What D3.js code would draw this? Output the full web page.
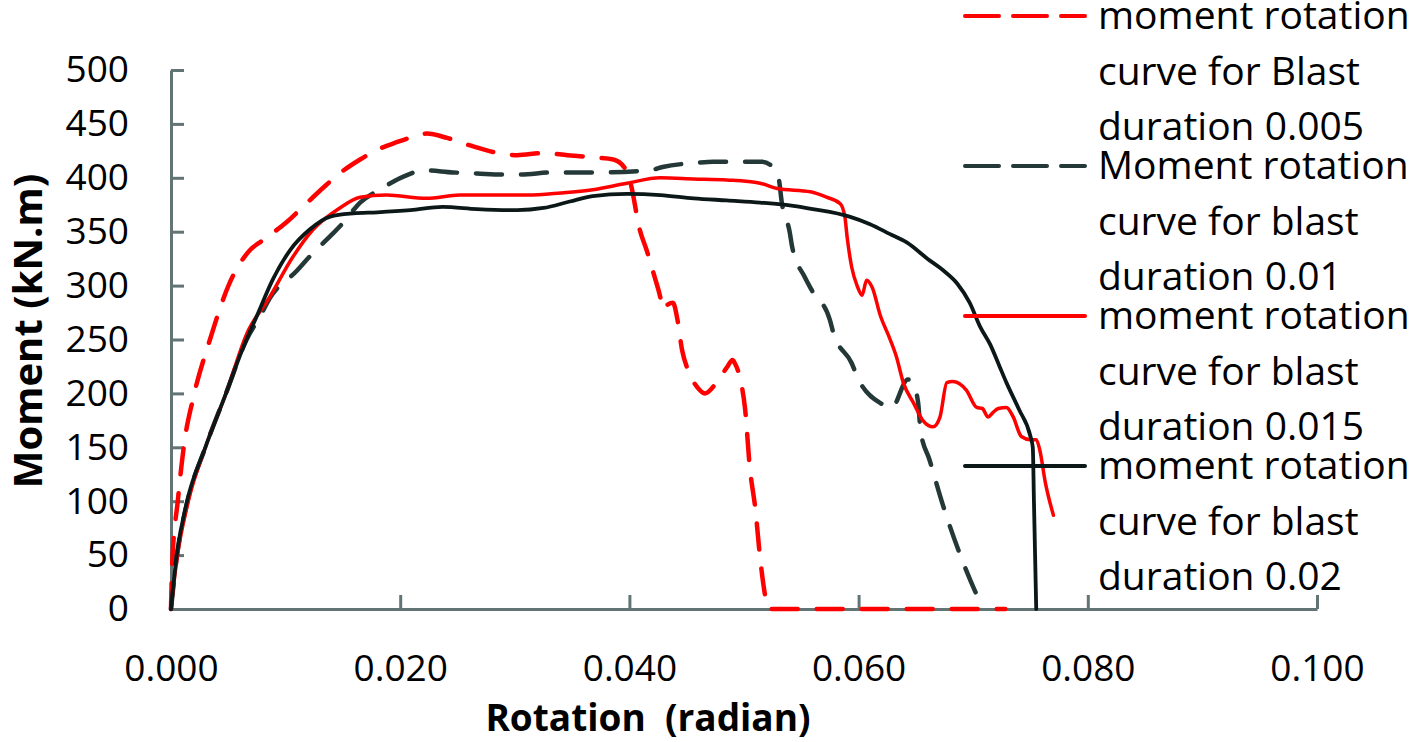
<!DOCTYPE html>
<html>
<head>
<meta charset="utf-8">
<script src="https://cdn.jsdelivr.net/npm/d3@7"></script>
<style>
  html, body { margin: 0; padding: 0; background: #fff; }
  svg { display: block; }
  .tick text { font-family: "Open Sans", sans-serif; fill: #000; }
</style>
</head>
<body>
<div id="chart"></div>
<script>
// ---------------------------------------------------------------
// data: [rotation (rad), moment (kN.m)]
// ---------------------------------------------------------------
var s005 = [[0,0],[0.0001,41],[0.0006,101],[0.0012,157],[0.0019,194],[0.0034,250],[0.0051,302],
  [0.0069,333],[0.0080,342],[0.0101,359],[0.0115,373],[0.0133,391],[0.0147,404],[0.0165,417],
  [0.0180,426],[0.0197,433],[0.0211,438],[0.0223,441],[0.0241,437],[0.0261,430],[0.0281,424],
  [0.0302,421],[0.0325,423],[0.0346,421],[0.0368,419],[0.0386,417],[0.0396,409],[0.0401,395],
  [0.0409,352],[0.0415,333],[0.0422,308],[0.0427,289],[0.0429,278],[0.0433,282],[0.0438,284],
  [0.0442,268],[0.0446,240],[0.0451,222],[0.0459,206],[0.0466,200],[0.0476,210],[0.0485,224],
  [0.0490,231],[0.0492,228],[0.0497,212],[0.0501,185],[0.0505,132],[0.0510,92],[0.0514,48],
  [0.0520,4],[0.0521,0],[0.0728,0]];

var s010 = [[0,0],[0.0005,48],[0.0014,98],[0.0030,150],[0.0048,200],[0.0066,250],[0.0078,272],
  [0.0086,288],[0.0110,314],[0.0121,327],[0.0140,347],[0.0150,358],[0.0165,377],[0.0182,389],
  [0.0207,403],[0.0220,407],[0.0246,405],[0.0267,404],[0.0290,403],[0.0305,403],[0.0333,405],
  [0.0374,405],[0.0418,407],[0.0429,410],[0.0459,414],[0.0473,415],[0.0503,415],[0.0516,415],
  [0.0525,410],[0.0530,401],[0.0533,377],[0.0540,349],[0.0542,336],[0.0553,308],[0.0559,296],
  [0.0575,268],[0.0578,256],[0.0594,228],[0.0599,215],[0.0619,191],[0.0629,187],[0.0643,213],
  [0.0647,210],[0.0652,191],[0.0654,166],[0.0662,138],[0.0674,95],[0.0688,52],[0.0704,11],
  [0.0709,0]];

var s015 = [[0,0],[0.0005,45],[0.0014,95],[0.0030,150],[0.0048,200],[0.0066,255],[0.0086,289],
  [0.0106,326],[0.0124,352],[0.0146,371],[0.0165,382],[0.0188,384],[0.0223,381],[0.0252,384],
  [0.0281,384],[0.0311,384],[0.0340,386],[0.0368,389],[0.0398,395],[0.0427,400],[0.0456,399],
  [0.0485,398],[0.0514,395],[0.0529,390],[0.0558,387],[0.0572,382],[0.0584,376],[0.0588,364],
  [0.0590,345],[0.0594,317],[0.0599,299],[0.0603,291],[0.0607,305],[0.0612,298],[0.0619,272],
  [0.0626,254],[0.0633,234],[0.0639,210],[0.0648,191],[0.0656,175],[0.0665,169],[0.0671,178],
  [0.0677,210],[0.0682,211],[0.0694,203],[0.0703,187],[0.0708,186],[0.0713,178],[0.0717,182],
  [0.0722,186],[0.0729,187],[0.0735,178],[0.0742,160],[0.0750,157],[0.0755,157],[0.0758,148],
  [0.0763,117],[0.0770,87]];

var s020 = [[0,0],[0.0005,50],[0.0014,100],[0.0030,150],[0.0048,200],[0.0062,240],[0.0075,272],
  [0.0089,306],[0.0104,333],[0.0121,352],[0.0139,364],[0.0159,367],[0.0180,368],[0.0209,370],
  [0.0237,373],[0.0267,371],[0.0302,370],[0.0325,372],[0.0348,378],[0.0368,383],[0.0398,385],
  [0.0427,384],[0.0456,381],[0.0485,379],[0.0514,377],[0.0543,374],[0.0560,371],[0.0592,364],
  [0.0610,357],[0.0627,348],[0.0642,340],[0.0660,325],[0.0674,314],[0.0686,302],[0.0697,284],
  [0.0706,262],[0.0715,245],[0.0723,225],[0.0729,210],[0.0740,185],[0.0750,160],[0.0752,150],
  [0.0753,100],[0.0754,50],[0.0755,0]];

var xTicks = [0, 0.02, 0.04, 0.06, 0.08, 0.1];
var yTicks = [0, 50, 100, 150, 200, 250, 300, 350, 400, 450, 500];

var legendLabels = [
  ['moment rotation', 'curve for Blast', 'duration 0.005'],
  ['Moment rotation', 'curve for blast', 'duration 0.01'],
  ['moment rotation', 'curve for blast', 'duration 0.015'],
  ['moment rotation', 'curve for blast', 'duration 0.02']
];

// ---------------------------------------------------------------
var W = 1418, H = 742;
var AXIS = '#627474';
var series = [
  { data: s005, color: '#ff0000', dash: '26,19', width: 4.5 },
  { data: s010, color: '#253838', dash: '26,19', width: 4.5 },
  { data: s015, color: '#ff0000', dash: null,    width: 3.5 },
  { data: s020, color: '#0c1818', dash: null,    width: 3.8 }
];

var svg = d3.select('#chart').append('svg')
  .attr('width', W).attr('height', H);

var x = d3.scaleLinear().domain([0, 0.1]).range([171, 1317]);
var y = d3.scaleLinear().domain([0, 500]).range([609, 70]);

// axes
var gx = svg.append('g')
  .attr('transform', 'translate(0,' + y(0) + ')')
  .call(d3.axisBottom(x).tickValues(xTicks).tickFormat(d3.format('.3f'))
    .tickSizeInner(-14).tickSizeOuter(0).tickPadding(46));

var gy = svg.append('g')
  .attr('transform', 'translate(' + x(0) + ',0)')
  .call(d3.axisLeft(y).tickValues(yTicks).tickFormat(d3.format('d'))
    .tickSizeInner(-13).tickSizeOuter(0).tickPadding(42));

[gx, gy].forEach(function (g) {
  g.select('.domain').attr('stroke', AXIS).attr('stroke-width', 3);
  g.selectAll('.tick line').attr('stroke', AXIS).attr('stroke-width', 3);
  g.selectAll('.tick text').attr('font-size', 37);
});

// axis titles
svg.append('text')
  .attr('x', 648).attr('y', 731)
  .attr('text-anchor', 'middle')
  .attr('font-family', '"Open Sans", sans-serif')
  .attr('font-weight', 'bold').attr('font-size', 37)
  .attr('xml:space', 'preserve')
  .text('Rotation  (radian)');

svg.append('text')
  .attr('transform', 'translate(42,331) rotate(-90)')
  .attr('text-anchor', 'middle')
  .attr('font-family', '"Open Sans", sans-serif')
  .attr('font-weight', 'bold').attr('font-size', 40)
  .text('Moment (kN.m)');

// curves
var line = d3.line()
  .x(function (d) { return x(d[0]); })
  .y(function (d) { return y(d[1]); })
  .curve(d3.curveMonotoneX);

series.forEach(function (s) {
  svg.append('path')
    .attr('d', line(s.data))
    .attr('fill', 'none')
    .attr('stroke', s.color)
    .attr('stroke-width', s.width)
    .attr('stroke-linecap', 'round')
    .attr('stroke-linejoin', 'round')
    .attr('stroke-dasharray', s.dash);
});

// legend
var legend = svg.append('g').attr('class', 'legend');
legendLabels.forEach(function (lines, i) {
  var s = series[i];
  var base = 29 + 150 * i;
  legend.append('line')
    .attr('x1', 965).attr('x2', 1085)
    .attr('y1', base - 13).attr('y2', base - 13)
    .attr('stroke', s.color)
    .attr('stroke-width', 4)
    .attr('stroke-linecap', 'round')
    .attr('stroke-dasharray', s.dash ? '34,14' : null);
  lines.forEach(function (t, j) {
    legend.append('text')
      .attr('x', 1098).attr('y', base + 55.5 * j)
      .attr('font-family', '"Open Sans", sans-serif')
      .attr('font-size', 39)
      .attr('fill', '#000')
      .text(t);
  });
});
</script>
</body>
</html>
